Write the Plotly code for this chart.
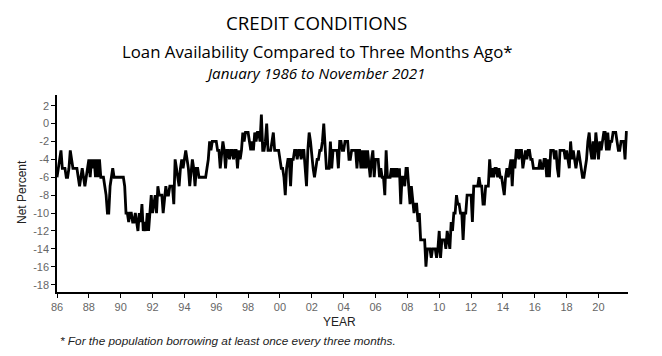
import plotly.graph_objects as go

# Net percent, monthly, January 1986 .. November 2021
vals_1986 = [-6, -5, -4, -3, -5, -5, -5, -6, -6, -5, -3, -4]
vals_1987 = [-5, -5, -5, -5, -6, -7, -6, -5, -6, -7, -6, -5]
vals_1988 = [-4, -6, -4, -5, -4, -6, -4, -6, -4, -6, -6, -6]
vals_1989 = [-7, -8, -10, -10, -7, -6, -5, -6, -6, -6, -6, -6]
vals_1990 = [-6, -6, -6, -7, -10, -10, -11, -10, -10, -11, -11, -10]
vals_1991 = [-11, -12, -10, -11, -9, -12, -11, -12, -10, -12, -10, -8]
vals_1992 = [-10, -9, -8, -10, -7, -8, -8, -8, -10, -8, -7, -8]
vals_1993 = [-8, -7, -7, -7, -9, -4, -5, -6, -7, -5, -4, -5]
vals_1994 = [-4, -3, -4, -5, -7, -5, -4, -5, -7, -5, -5, -6]
vals_1995 = [-6, -6, -6, -6, -6, -5, -4, -2, -3, -2, -2, -2]
vals_1996 = [-2, -3, -3, -5, -3, -2, -3, -5, -3, -3, -4, -3]
vals_1997 = [-3, -4, -3, -3, -5, -3, -4, -3, -1, -2, -1, -1]
vals_1998 = [-1, -2, -3, -2, -3, -1, -2, -1, -1, -2, 1, -3]
vals_1999 = [-3, -2, 0, -3, -3, -3, -2, -1, -3, -3, -3, -3]
vals_2000 = [-4, -5, -5, -6, -8, -5, -4, -4, -7, -4, -4, -3]
vals_2001 = [-3, -4, -3, -3, -4, -3, -3, -5, -7, -3, -1, -2]
vals_2002 = [-4, -5, -6, -5, -4, -4, -3, -3, -2, 0, -3, -5]
vals_2003 = [-5, -5, -2, -5, -3, -3, -3, -3, -5, -2, -2, -3]
vals_2004 = [-3, -2, -2, -2, -4, -4, -3, -3, -3, -3, -5, -3]
vals_2005 = [-3, -5, -3, -5, -3, -5, -3, -5, -6, -4, -3, -6]
vals_2006 = [-4, -4, -4, -6, -5, -6, -6, -8, -3, -6, -6, -6]
vals_2007 = [-5, -6, -5, -6, -5, -6, -5, -9, -6, -6, -7, -5]
vals_2008 = [-5, -7, -9, -7, -9, -10, -9, -9, -11, -10, -13, -13]
vals_2009 = [-13, -13, -16, -14, -14, -14, -15, -14, -14, -14, -15, -14]
vals_2010 = [-12, -15, -13, -13, -13, -14, -12, -13, -14, -11, -12, -10]
vals_2011 = [-10, -8, -9, -9, -10, -10, -13, -10, -10, -8, -8, -8]
vals_2012 = [-8, -11, -7, -7, -7, -7, -6, -7, -7, -9, -9, -7]
vals_2013 = [-7, -7, -4, -6, -5, -6, -5, -5, -6, -5, -6, -6]
vals_2014 = [-7, -8, -6, -5, -6, -5, -4, -7, -4, -5, -3, -3]
vals_2015 = [-4, -3, -3, -5, -4, -3, -4, -3, -3, -4, -4, -5]
vals_2016 = [-5, -5, -5, -5, -4, -5, -5, -4, -4, -6, -4, -6]
vals_2017 = [-3, -3, -3, -4, -3, -5, -6, -3, -3, -3, -3, -4]
vals_2018 = [-3, -4, -5, -2, -4, -3, -4, -5, -4, -3, -4, -5]
vals_2019 = [-6, -6, -5, -4, -2, -1, -3, -4, -2, -4, -1, -3]
vals_2020 = [-4, -2, -3, -2, -1, -1, -3, -1, -3, -2, -2, -1]
vals_2021 = [-1, -1, -2, -3, -3, -2, -2, -2, -4, -1, -1]

x_tick_years = list(range(1986, 2021, 2))
x_tick_labels = ["86", "88", "90", "92", "94", "96", "98", "00", "02", "04",
                 "06", "08", "10", "12", "14", "16", "18", "20"]
y_tick_vals = list(range(2, -19, -2))
y_tick_labels = ["2", "0", "-2", "-4", "-6", "-8", "-10", "-12", "-14", "-16", "-18"]

series = (vals_1986 + vals_1987 + vals_1988 + vals_1989 + vals_1990 + vals_1991 +
          vals_1992 + vals_1993 + vals_1994 + vals_1995 + vals_1996 + vals_1997 +
          vals_1998 + vals_1999 + vals_2000 + vals_2001 + vals_2002 + vals_2003 +
          vals_2004 + vals_2005 + vals_2006 + vals_2007 + vals_2008 + vals_2009 +
          vals_2010 + vals_2011 + vals_2012 + vals_2013 + vals_2014 + vals_2015 +
          vals_2016 + vals_2017 + vals_2018 + vals_2019 + vals_2020 + vals_2021)
months = [1986 + i / 12 for i in range(len(series))]

W, H = 662, 356
L, R, T, B = 57, 34, 95, 64
ph = H - T - B
pw = W - L - R

def px(x):
    return (x - L) / pw

def py(y):
    return (H - B - y) / ph

fig = go.Figure()
fig.add_trace(go.Scatter(x=months, y=series, mode="lines",
                         line=dict(color="black", width=2.8), hoverinfo="skip"))

tick_font = dict(family="Liberation Sans, Arial, sans-serif", size=11, color="#666666")
fig.update_layout(
    width=W, height=H,
    margin=dict(l=L, r=R, t=T, b=B),
    paper_bgcolor="white", plot_bgcolor="white",
    showlegend=False,
    xaxis=dict(range=[1986, 1986 + 430 / 12 + 0.02], tickvals=x_tick_years, ticktext=x_tick_labels,
               showline=True, linecolor="black", linewidth=1.5, ticks="outside",
               ticklen=4, tickcolor="black", tickwidth=1.2, showgrid=False, zeroline=False,
               tickfont=tick_font),
    yaxis=dict(range=[-18.82, 3.19], tickvals=y_tick_vals, ticktext=y_tick_labels,
               showline=True, linecolor="black", linewidth=1.5, ticks="outside",
               ticklen=4, tickcolor="black", tickwidth=1.2, showgrid=False, zeroline=False,
               tickfont=tick_font),
)

def note(text, x, y, size, family, color="black", italic=False, angle=0, xanchor="center"):
    fig.add_annotation(text=text, xref="paper", yref="paper", x=px(x), y=py(y),
                       xanchor=xanchor, yanchor="middle", showarrow=False, textangle=angle,
                       font=dict(size=size, family=family, color=color,
                                 style="italic" if italic else "normal"))

note("CREDIT CONDITIONS", 316, 22, 18.7, "Open Sans")
note("Loan Availability Compared to Three Months Ago*", 317, 52, 16.8, "Open Sans")
note("January 1986 to November 2021", 315, 73, 15.2, "Open Sans", italic=True)
note("Net Percent", 22, 192, 12, "Liberation Sans, Arial", color="#222222", angle=-90)
note("YEAR", 339, 322, 12, "Liberation Sans, Arial", color="#222222")
note("* For the population borrowing at least once every three months.", 58, 341, 11.8,
     "Liberation Sans, Arial", color="#222222", italic=True, xanchor="left")

fig.write_html("out.html", config={"displayModeBar": False},
               post_script="document.body.style.margin='0';document.body.style.padding='0';")
